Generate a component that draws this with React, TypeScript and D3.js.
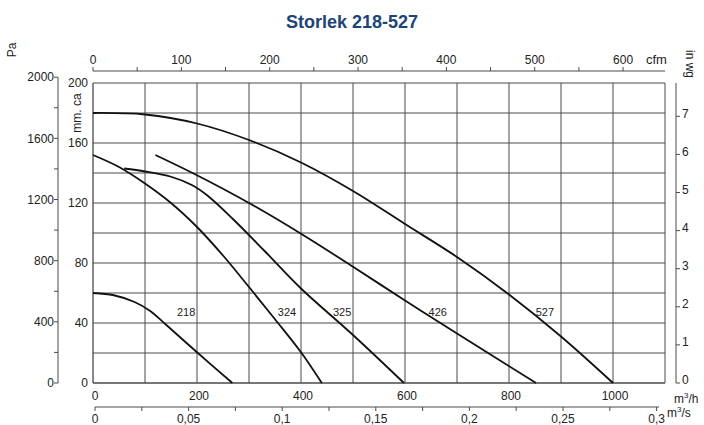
import React from 'react';
import * as d3 from 'd3';

// curves: [m3/h, mm water column]
const fan218: [number, number][] = [[0, 60], [40, 58.5], [80, 54], [110, 48], [140, 39], [200, 20.5], [268, 0]];
const fan324: [number, number][] = [[0, 152], [50, 144], [100, 133], [150, 120], [200, 104], [250, 85], [300, 64], [350, 42.5], [400, 20.5], [440, 0]];
const fan325: [number, number][] = [[60, 143], [100, 141], [150, 137.5], [190, 132], [220, 125], [270, 109], [330, 88], [400, 63], [500, 32], [598, 0]];
const fan426: [number, number][] = [[120, 152], [200, 138.5], [300, 120], [400, 99.5], [500, 77.5], [600, 55], [700, 33], [852, 0]];
const fan527: [number, number][] = [[0, 180], [100, 179], [200, 173], [300, 162], [400, 147], [500, 128], [600, 106], [700, 84], [800, 59], [900, 31], [1000, 0]];

const curveNames = ['218', '324', '325', '426', '527'];
const curveLabelPos: [number, number][] = [[179, 47], [373, 47], [479, 47], [663, 47], [869, 47]];

const m3hTicks = [0, 200, 400, 600, 800, 1000];
const mmTicks = [0, 40, 80, 120, 160, 200];
const paTicks = [0, 400, 800, 1200, 1600, 2000];
const inwgTicks = [0, 1, 2, 3, 4, 5, 6, 7];
const cfmTicks = [0, 100, 200, 300, 400, 500, 600];
const m3sTicks = [0, 0.05, 0.1, 0.15, 0.2, 0.25, 0.3];

const W = 704;
const H = 425;
const X0 = 93;
const X1 = 665;
const Y0 = 383;
const Y1 = 83;
const MAXQ = 1100;
const MAXMM = 200;

export default function App() {
  const x = d3.scaleLinear().domain([0, MAXQ]).range([X0, X1]);
  const y = d3.scaleLinear().domain([0, MAXMM]).range([Y0, Y1]);
  const yPa = d3.scaleLinear().domain([0, MAXMM * 9.81]).range([Y0, Y1]);
  const yIn = d3.scaleLinear().domain([0, MAXMM / 25.4]).range([Y0, Y1]);
  const xCfm = d3.scaleLinear().domain([0, MAXQ * 0.5886]).range([X0, X1]);
  const xM3s = d3.scaleLinear().domain([0, MAXQ / 3600]).range([X0, X1]);

  const line = d3.line<[number, number]>()
    .x(d => x(d[0]))
    .y(d => y(d[1]))
    .curve(d3.curveCatmullRom.alpha(0.5));

  const curves = [fan218, fan324, fan325, fan426, fan527];
  const font = 'Arial, "Liberation Sans", sans-serif';
  const ink = '#222';
  const grid = '#4a4a4a';

  const vGrid = d3.range(0, MAXQ + 1, 100);
  const hGrid = d3.range(0, MAXMM + 1, 20);
  const paMinor = d3.range(0, 2001, 200);
  const cfmMinor = d3.range(0, 601, 50);
  const m3sMinor = d3.range(0, 0.3001, 0.025);
  const fmtComma = (v: number) => String(+v.toFixed(3)).replace('.', ',');

  const yCfm = 71;
  const yM3s = 407;
  const xPa = 58;
  const xIn = 676;

  return (
    <svg width={W} height={H} style={{ position: 'absolute', left: 0, top: 0, background: '#fff' }} fontFamily={font}>
      <text x={352} y={28} textAnchor="middle" fontSize={18} fontWeight="bold" fill="#1b4576">Storlek 218-527</text>

      {/* grid */}
      {vGrid.map(v => (
        <line key={'v' + v} x1={x(v)} x2={x(v)} y1={Y1} y2={Y0} stroke={grid} strokeWidth={v === 0 ? 1.3 : 1} />
      ))}
      {hGrid.map(v => (
        <line key={'h' + v} x1={X0} x2={X1} y1={y(v)} y2={y(v)} stroke={grid} strokeWidth={v === 0 ? 1.3 : 1} />
      ))}

      {/* curves */}
      {curves.map((c, i) => (
        <path key={curveNames[i]} d={line(c) || ''} fill="none" stroke="#111" strokeWidth={1.8} />
      ))}
      {curveNames.map((n, i) => (
        <text key={'l' + n} x={x(curveLabelPos[i][0])} y={y(curveLabelPos[i][1])} dy="0.35em" textAnchor="middle" fontSize={11} fill={ink}>{n}</text>
      ))}

      {/* mm ca labels */}
      {mmTicks.map(v => (
        <text key={'mm' + v} x={88} y={y(v)} dy="0.35em" textAnchor="end" fontSize={12} fill={ink}>{v}</text>
      ))}
      <text transform={`translate(81,${y(180)}) rotate(-90)`} textAnchor="middle" fontSize={12} fill={ink}>mm. ca</text>

      {/* m3/h labels */}
      {m3hTicks.map(v => (
        <text key={'q' + v} x={x(v) + 2} y={Y0 + 17} textAnchor="middle" fontSize={12} fill={ink}>{v}</text>
      ))}
      <text x={674} y={403} fontSize={12} fill={ink}>m<tspan dy={-5} fontSize={8}>3</tspan><tspan dy={5}>/h</tspan></text>

      {/* Pa axis */}
      <line x1={xPa} x2={xPa} y1={yPa(2000)} y2={Y0} stroke={grid} />
      {paMinor.map(v => (
        <line key={'pt' + v} x1={xPa - 4} x2={xPa} y1={yPa(v)} y2={yPa(v)} stroke={grid} />
      ))}
      {paTicks.map(v => (
        <text key={'pa' + v} x={xPa - 4} y={yPa(v)} dy="0.35em" textAnchor="end" fontSize={12} fill={ink}>{v}</text>
      ))}
      <text transform="translate(16,50) rotate(-90)" textAnchor="middle" fontSize={12} fill={ink}>Pa</text>

      {/* in wg axis */}
      <line x1={xIn} x2={xIn} y1={Y1} y2={Y0} stroke={grid} />
      {inwgTicks.map(v => (
        <g key={'in' + v}>
          <line x1={xIn} x2={xIn + 4} y1={yIn(v)} y2={yIn(v)} stroke={grid} />
          <text x={xIn + 6} y={yIn(v) - 3} dy="0.35em" fontSize={12} fill={ink}>{v}</text>
        </g>
      ))}
      <text transform="translate(686,64) rotate(90)" textAnchor="middle" fontSize={12} fill={ink}>in wg</text>

      {/* cfm axis */}
      <line x1={X0} x2={X1} y1={yCfm} y2={yCfm} stroke={grid} />
      {cfmMinor.map(v => (
        <line key={'ct' + v} x1={xCfm(v)} x2={xCfm(v)} y1={yCfm - 4} y2={yCfm} stroke={grid} />
      ))}
      {cfmTicks.map(v => (
        <text key={'cfm' + v} x={xCfm(v)} y={yCfm - 7} textAnchor="middle" fontSize={12} fill={ink}>{v}</text>
      ))}
      <text x={646} y={yCfm - 7} fontSize={13} fill={ink}>cfm</text>

      {/* m3/s axis */}
      <line x1={X0 + 2} x2={X1 - 6} y1={yM3s} y2={yM3s} stroke={grid} />
      {m3sMinor.map(v => (
        <line key={'st' + v} x1={xM3s(v) + 2} x2={xM3s(v) + 2} y1={yM3s} y2={yM3s + 4} stroke={grid} />
      ))}
      {m3sTicks.map(v => (
        <text key={'s' + v} x={xM3s(v) + 2} y={yM3s + 16} textAnchor="middle" fontSize={12} fill={ink}>{fmtComma(v)}</text>
      ))}
      <text x={667} y={yM3s + 10} fontSize={12} fill={ink}>m<tspan dy={-5} fontSize={8}>3</tspan><tspan dy={5}>/s</tspan></text>
    </svg>
  );
}
